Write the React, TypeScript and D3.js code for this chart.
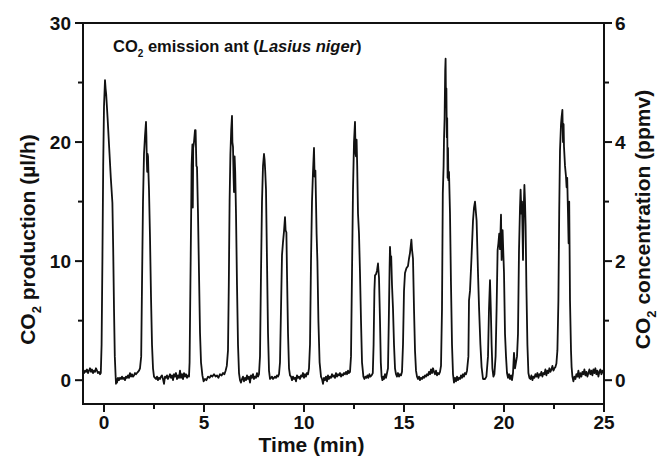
import React from "react";
import * as d3 from "d3";

const co2Trace: [number, number][] = [
  [-1.05,0.7],[-1.0,0.6],[-0.95,0.8],[-0.9,0.7],[-0.85,0.9],[-0.8,0.6],[-0.75,0.8],[-0.7,1.0],[-0.65,0.7],[-0.6,0.9],[-0.55,0.6],[-0.5,0.8],[-0.45,0.7],[-0.4,1.0],[-0.35,0.8],[-0.3,0.6],[-0.25,0.7],[-0.2,0.5],[-0.16,0.6],
  [-0.12,3],[-0.08,10],[-0.04,18],[0.0,23],[0.05,25.2],[0.08,24.5],[0.11,24.0],[0.18,22],[0.26,19.5],[0.34,17.0],[0.42,14.9],[0.46,11],[0.5,6],[0.54,2],[0.58,0.4],[0.6,-0.3],[0.62,0.1],[0.65,-0.2],[0.7,0.2],
  [0.75,0.0],[0.8,0.2],[0.85,0.1],[0.9,0.3],[0.95,0.1],[1.0,0.2],[1.05,0.0],[1.1,0.3],[1.15,0.2],[1.2,0.4],[1.25,0.2],[1.3,0.6],[1.35,0.3],[1.4,0.5],[1.45,0.3],[1.5,0.4],[1.55,0.6],[1.6,0.5],[1.65,0.6],[1.7,0.7],[1.75,0.8],[1.8,1.0],
  [1.86,2],[1.9,8],[1.95,15],[2.0,19],[2.05,20.5],[2.1,21.7],[2.12,20.5],[2.14,18.5],[2.16,17.5],[2.18,19],[2.2,18.8],[2.22,17.5],[2.25,16],[2.3,12],[2.35,7],[2.4,3],[2.45,1],[2.5,0.3],
  [2.55,0.2],[2.6,0.1],[2.65,0.3],[2.7,0.0],[2.75,0.2],[2.8,0.1],[2.85,0.3],[2.9,0.4],[2.95,0.1],[3.0,-0.3],[3.05,0.3],[3.1,0.2],[3.15,0.4],[3.2,0.1],[3.25,0.3],[3.3,0.5],[3.35,0.2],[3.4,0.4],[3.45,0.0],[3.5,0.5],[3.55,0.3],[3.6,0.6],[3.65,0.1],[3.7,0.4],[3.75,0.2],[3.8,0.8],[3.85,0.2],[3.9,0.5],[3.95,0.1],[4.0,0.6],[4.05,0.3],[4.1,0.5],[4.15,0.2],[4.2,0.4],[4.25,0.3],
  [4.28,1.5],[4.32,8],[4.36,14.3],[4.38,18],[4.42,19.8],[4.44,14.5],[4.46,19.5],[4.5,20],[4.55,21],[4.58,21.0],[4.62,18.0],[4.65,17.9],[4.7,14],[4.75,9],[4.8,4],[4.85,1.5],[4.92,0.4],
  [4.98,-0.1],[5.05,0.1],[5.12,0.0],[5.2,0.3],[5.28,0.2],[5.35,0.4],[5.42,0.3],[5.5,0.5],[5.58,0.3],[5.65,0.4],[5.72,0.2],[5.8,0.5],[5.88,0.4],[5.95,0.6],[6.02,0.5],[6.08,0.8],[6.14,1.2],[6.2,2.5],
  [6.24,8],[6.28,15],[6.32,19],[6.36,21],[6.4,22.2],[6.42,20],[6.45,19.6],[6.48,17],[6.5,15.8],[6.53,18.8],[6.56,17.5],[6.6,14],[6.65,8],[6.7,3],[6.75,0.6],[6.8,0.0],
  [6.85,-0.2],[6.9,0.1],[6.95,0.3],[7.0,-0.1],[7.05,0.2],[7.1,0.0],[7.15,0.4],[7.2,0.1],[7.25,0.3],[7.3,-0.2],[7.35,0.4],[7.4,0.2],[7.45,0.5],[7.5,0.1],[7.55,0.3],[7.6,0.2],[7.65,0.6],[7.7,0.3],[7.75,0.5],
  [7.8,2],[7.85,9],[7.9,15],[7.95,18],[8.0,19.0],[8.03,18.5],[8.06,17.6],[8.1,16],[8.15,10],[8.2,4],[8.25,0.8],[8.3,0.1],
  [8.35,0.2],[8.4,0.3],[8.45,0.1],[8.5,0.2],[8.55,0.3],[8.6,0.2],[8.65,0.4],[8.7,0.3],[8.75,0.5],
  [8.8,1.5],[8.85,6],[8.9,10.5],[8.95,11.6],[9.0,12.5],[9.05,13.7],[9.08,12.6],[9.12,12.4],[9.15,9],[9.2,4],[9.25,1],[9.3,0.4],
  [9.35,0.3],[9.4,0.0],[9.45,0.3],[9.5,0.1],[9.55,0.2],[9.6,-0.1],[9.65,0.4],[9.7,0.2],[9.75,0.3],[9.8,0.1],[9.85,0.4],[9.9,0.3],[9.95,0.6],[10.0,0.2],[10.05,0.5],[10.1,0.3],[10.15,0.6],[10.2,0.5],[10.25,1.0],
  [10.3,3],[10.35,10],[10.4,15],[10.45,17.5],[10.5,19.5],[10.53,17.1],[10.57,17.6],[10.6,15],[10.63,12.3],[10.67,10],[10.72,5],[10.78,1.5],[10.85,0.3],
  [10.9,0.1],[10.95,-0.3],[11.0,0.2],[11.05,0.0],[11.1,0.3],[11.15,-0.1],[11.2,0.4],[11.25,0.1],[11.3,0.3],[11.35,0.2],[11.4,0.5],[11.45,0.3],[11.5,0.4],[11.55,0.2],[11.6,0.6],[11.65,0.3],[11.7,0.5],[11.75,0.4],[11.8,0.6],[11.85,0.3],[11.9,0.5],[11.95,0.4],[12.0,0.6],[12.05,0.5],[12.1,0.7],[12.15,0.5],[12.2,0.8],[12.25,0.6],[12.3,0.7],
  [12.35,2],[12.4,9],[12.45,16],[12.5,20],[12.55,21.7],[12.58,19],[12.6,18.8],[12.63,20.2],[12.66,18],[12.7,14],[12.75,12.3],[12.8,9],[12.85,5],[12.9,1.5],[12.97,0.3],
  [13.02,0.1],[13.07,0.3],[13.12,0.2],[13.17,0.4],[13.22,0.2],[13.27,0.5],[13.32,0.3],[13.38,0.4],[13.44,0.6],
  [13.48,3],[13.52,7.5],[13.55,8.8],[13.6,8.9],[13.65,9.2],[13.7,9.8],[13.72,9.3],[13.75,8.6],[13.8,5],[13.84,1.5],[13.88,0.3],
  [13.92,0.0],[13.96,0.3],[14.0,0.1],[14.05,0.5],[14.1,0.2],[14.15,0.6],[14.2,1.0],
  [14.24,5],[14.28,9.5],[14.3,11.2],[14.33,10.1],[14.36,10.4],[14.4,8.0],[14.45,6],[14.5,3],[14.55,1],[14.6,0.5],
  [14.65,0.3],[14.7,0.6],[14.75,0.3],[14.8,0.5],[14.85,0.4],[14.9,0.7],
  [14.95,3],[15.0,7.5],[15.05,9.0],[15.12,9.4],[15.2,9.6],[15.25,10.2],[15.3,10.7],[15.37,11.8],[15.4,11.0],[15.45,10.2],[15.5,6],[15.55,2.5],[15.6,0.8],[15.65,0.3],
  [15.7,0.1],[15.75,0.3],[15.8,0.0],[15.85,0.2],[15.9,0.1],[15.95,0.3],[16.0,0.2],[16.05,0.4],[16.1,0.3],[16.15,0.5],[16.2,0.4],[16.25,0.7],[16.3,0.5],[16.35,0.9],[16.4,0.6],[16.45,1.0],[16.5,0.7],[16.55,0.5],[16.6,0.8],[16.65,0.4],[16.7,0.6],[16.75,0.5],[16.8,0.7],[16.85,1.2],
  [16.9,6],[16.94,15.7],[16.98,18],[17.0,20.2],[17.03,22],[17.06,26],[17.08,27.0],[17.1,23],[17.12,24.5],[17.14,20.4],[17.16,22],[17.18,17],[17.2,19.5],[17.22,16.8],[17.25,17.5],[17.3,14],[17.35,8],[17.4,3],[17.45,0.5],[17.5,-0.2],
  [17.55,0.2],[17.6,-0.1],[17.65,0.3],[17.7,0.0],[17.75,0.2],[17.8,0.1],[17.85,0.4],[17.9,0.2],[17.95,0.5],[18.0,0.3],[18.05,0.6],[18.1,0.5],[18.15,0.8],
  [18.22,2],[18.25,6.7],[18.3,7.5],[18.37,10.1],[18.45,13.4],[18.5,14.5],[18.55,15.0],[18.6,14],[18.63,13.4],[18.7,9],[18.75,6.2],[18.82,3],[18.88,1.1],[18.95,0.1],
  [19.05,0.1],[19.12,0.3],[19.2,2],[19.25,6],[19.3,8.4],[19.34,6],[19.38,3],[19.42,1],[19.47,0.3],
  [19.52,0.5],[19.58,2],[19.63,6],[19.68,10.9],[19.72,11.5],[19.76,12.3],[19.8,11],[19.85,13.9],[19.88,10.1],[19.9,12],[19.93,12.6],[19.96,11],[20.0,9],[20.05,3.9],[20.1,2],[20.15,0.6],
  [20.2,0.2],[20.25,0.5],[20.3,0.1],[20.35,0.4],[20.4,0.0],[20.45,0.6],[20.5,2.3],[20.55,1.0],[20.6,1.5],[20.65,2.0],
  [20.7,3.9],[20.75,10.9],[20.8,14.5],[20.83,16.0],[20.87,14],[20.9,15],[20.95,10.1],[20.98,14],[21.02,16.4],[21.05,15],[21.08,13],[21.12,7.8],[21.17,3],[21.22,0.6],[21.27,0.2],
  [21.32,0.1],[21.37,0.4],[21.42,0.0],[21.47,0.3],[21.52,0.2],[21.57,0.5],[21.62,0.3],[21.67,0.6],[21.72,0.2],[21.77,0.5],[21.82,0.4],[21.87,0.7],[21.92,0.3],[21.97,0.6],[22.02,0.5],[22.07,0.9],[22.12,0.4],[22.17,0.8],[22.22,0.6],[22.27,1.0],[22.32,0.7],[22.37,0.9],[22.42,1.2],[22.47,0.8],[22.52,1.0],[22.57,1.1],[22.62,1.4],[22.67,2.5],
  [22.72,6.7],[22.76,14],[22.8,19.3],[22.85,21.5],[22.88,22.1],[22.92,22.7],[22.95,20],[22.98,21.5],[23.0,19.6],[23.05,18],[23.1,17.1],[23.13,16.2],[23.16,17],[23.2,14.0],[23.23,11.5],[23.26,15],[23.28,11],[23.3,6.7],[23.35,2.5],[23.38,1.1],[23.42,0.3],[23.47,-0.1],
  [23.52,0.3],[23.57,0.1],[23.62,0.5],[23.67,0.3],[23.72,0.8],[23.77,0.2],[23.82,0.6],[23.87,0.3],[23.92,0.7],[23.97,0.5],[24.02,0.9],[24.07,0.4],[24.12,0.7],[24.17,0.3],[24.22,0.6],[24.27,0.9],[24.32,0.5],[24.37,0.8],[24.42,0.4],[24.47,0.9],[24.52,0.6],[24.57,1.0],[24.62,0.5],[24.67,0.8],[24.72,0.3],[24.77,0.7],[24.82,0.9],[24.87,0.5],[24.92,0.8],[24.97,0.6]
];

const xMajorTicks = [0, 5, 10, 15, 20, 25];
const xMinorTicks = [2.5, 7.5, 12.5, 17.5, 22.5];
const yLeftMajor = [0, 10, 20, 30];
const yLeftMinor = [5, 15, 25];
const yRightMajor = [0, 2, 4, 6];
const yRightMinor = [1, 3, 5];

const W = 659, H = 466;
const M = { left: 83, right: 604, top: 23, bottom: 404 };
const FONT = "'Liberation Sans', Arial, Helvetica, sans-serif";

export default function App() {
  const x = d3.scaleLinear().domain([-1.05, 25]).range([M.left, M.right]);
  const y = d3.scaleLinear().domain([-2, 30]).range([M.bottom, M.top]);
  const yR = d3.scaleLinear().domain([-0.4, 6]).range([M.bottom, M.top]);
  const line = d3.line<[number, number]>().x(d => x(d[0])).y(d => y(d[1]));
  const majorLen = 8, minorLen = 5;

  return (
    <svg width={W} height={H} style={{ position: "absolute", left: 0, top: 0, background: "#fff" }}
      fontFamily={FONT} fontWeight="bold">
      <rect x={0} y={0} width={W} height={H} fill="#fff" />
      <path d={line(co2Trace) || ""} fill="none" stroke="#111" strokeWidth={1.8} strokeLinejoin="round" />
      <rect x={M.left} y={M.top} width={M.right - M.left} height={M.bottom - M.top} fill="none" stroke="#111" strokeWidth={2} />
      {xMajorTicks.map(t => (
        <g key={"xm" + t}>
          <line x1={x(t)} x2={x(t)} y1={M.bottom} y2={M.bottom + majorLen} stroke="#111" strokeWidth={2} />
          <text x={x(t)} y={M.bottom + 25} textAnchor="middle" fontSize={19} fill="#111">{t}</text>
        </g>
      ))}
      {xMinorTicks.map(t => (
        <line key={"xn" + t} x1={x(t)} x2={x(t)} y1={M.bottom} y2={M.bottom + minorLen} stroke="#111" strokeWidth={2} />
      ))}
      {yLeftMajor.map(v => (
        <g key={"yl" + v}>
          <line x1={M.left - majorLen} x2={M.left} y1={y(v)} y2={y(v)} stroke="#111" strokeWidth={2} />
          <text x={M.left - 12} y={y(v) + 7} textAnchor="end" fontSize={19} fill="#111">{v}</text>
        </g>
      ))}
      {yLeftMinor.map(v => (
        <line key={"yln" + v} x1={M.left - minorLen} x2={M.left} y1={y(v)} y2={y(v)} stroke="#111" strokeWidth={2} />
      ))}
      {yRightMajor.map(v => (
        <g key={"yr" + v}>
          <line x1={M.right} x2={M.right + majorLen} y1={yR(v)} y2={yR(v)} stroke="#111" strokeWidth={2} />
          <text x={M.right + 11} y={yR(v) + 7} textAnchor="start" fontSize={19} fill="#111">{v}</text>
        </g>
      ))}
      {yRightMinor.map(v => (
        <line key={"yrn" + v} x1={M.right} x2={M.right + minorLen} y1={yR(v)} y2={yR(v)} stroke="#111" strokeWidth={2} />
      ))}
      <text x={(M.left + M.right) / 2 - 32} y={452} textAnchor="middle" fontSize={21} fill="#111">Time (min)</text>
      <text transform={`translate(35, ${(M.top + M.bottom) / 2 + 26}) rotate(-90)`} textAnchor="middle" fontSize={21} fill="#111">
        CO<tspan fontSize={13} dy={6}>2</tspan><tspan dy={-6}> production (µl/h)</tspan>
      </text>
      <text transform={`translate(650, ${(M.top + M.bottom) / 2 + 6}) rotate(-90)`} textAnchor="middle" fontSize={21} fill="#111">
        CO<tspan fontSize={13} dy={6}>2</tspan><tspan dy={-6}> concentration (ppmv)</tspan>
      </text>
      <text x={113} y={52} fontSize={16.5} fill="#111">
        CO<tspan fontSize={10} dy={5}>2</tspan><tspan dy={-5}> emission ant (</tspan><tspan fontStyle="italic">Lasius niger</tspan>)
      </text>
    </svg>
  );
}
